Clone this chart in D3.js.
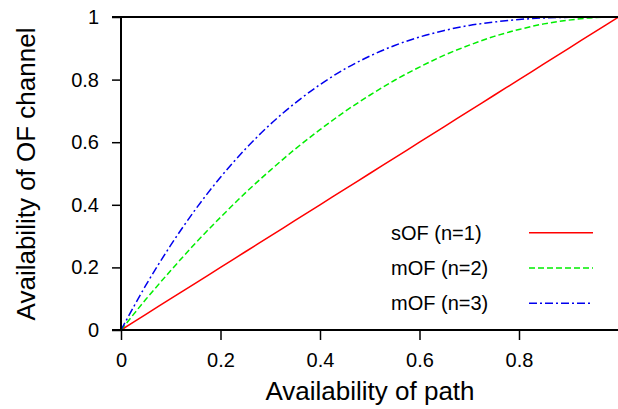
<!DOCTYPE html>
<html>
<head>
<meta charset="utf-8">
<script src="https://cdn.jsdelivr.net/npm/d3@7"></script>
<style>
  body { margin: 0; background: #fff; }
  svg { display: block; font-family: "Liberation Sans", Arial, sans-serif; }
</style>
</head>
<body>
<div id="chart"></div>
<script>
// availability of path (x)
var pathAvail = [0, 0.05, 0.1, 0.15, 0.2, 0.25, 0.3, 0.35, 0.4, 0.45, 0.5,
                 0.55, 0.6, 0.65, 0.7, 0.75, 0.8, 0.85, 0.9, 0.95, 1];
// availability of OF channel
var sOF1 = [0, 0.05, 0.1, 0.15, 0.2, 0.25, 0.3, 0.35, 0.4, 0.45, 0.5,
            0.55, 0.6, 0.65, 0.7, 0.75, 0.8, 0.85, 0.9, 0.95, 1];
var mOF2 = [0, 0.098, 0.19, 0.278, 0.36, 0.438, 0.51, 0.578, 0.64, 0.698, 0.75,
            0.798, 0.84, 0.878, 0.91, 0.938, 0.96, 0.978, 0.99, 0.998, 1];
var mOF3 = [0, 0.143, 0.271, 0.386, 0.488, 0.578, 0.657, 0.725, 0.784, 0.834, 0.875,
            0.909, 0.936, 0.957, 0.973, 0.984, 0.992, 0.997, 0.999, 1, 1];
var seriesNames = ["sOF (n=1)", "mOF (n=2)", "mOF (n=3)"];
var xTicks = [0, 0.2, 0.4, 0.6, 0.8];
var yTicks = [0, 0.2, 0.4, 0.6, 0.8, 1];

var W = 618, H = 409;
var margin = {top: 17, right: 0, bottom: 79, left: 121};
var width = W - margin.left - margin.right + 0.5,
    height = H - margin.top - margin.bottom;

var x = d3.scaleLinear().domain([0, 1]).range([0, 497.5]);
var y = d3.scaleLinear().domain([0, 1]).range([height, 0]);

var svg = d3.select("#chart").append("svg")
    .attr("width", W)
    .attr("height", H)
  .append("g")
    .attr("transform", "translate(" + margin.left + "," + margin.top + ")");

var styles = [
  {color: "#ff0000", dash: null},
  {color: "#00ee00", dash: "6,3"},
  {color: "#0000ee", dash: "8,3,2,3"}
];
var series = [sOF1, mOF2, mOF3];

var line = d3.line()
    .x(function(d) { return x(d[0]); })
    .y(function(d) { return y(d[1]); })
    .curve(d3.curveMonotoneX);

series.forEach(function(s, i) {
  svg.append("path")
      .datum(pathAvail.map(function(v, j) { return [v, s[j]]; }))
      .attr("fill", "none")
      .attr("stroke", styles[i].color)
      .attr("stroke-width", 1.5)
      .attr("stroke-dasharray", styles[i].dash)
      .attr("d", line);
});

// axes
var xAxis = svg.append("g")
    .attr("transform", "translate(0," + height + ")")
    .call(d3.axisBottom(x).tickValues(xTicks).tickSize(10).tickPadding(13)
      .tickFormat(d3.format("")));
var yAxis = svg.append("g")
    .call(d3.axisLeft(y).tickValues(yTicks).tickSize(9).tickPadding(13)
      .tickFormat(d3.format("")));

[xAxis, yAxis].forEach(function(a) {
  a.select(".domain").remove();
  a.selectAll("line").attr("stroke", "#000").attr("stroke-width", 1.5);
  a.selectAll("text").attr("font-size", 20).attr("fill", "#000")
    .attr("font-family", "Liberation Sans, Arial, sans-serif");
});

// frame: left, bottom, top
svg.append("line").attr("x1", -9).attr("x2", width).attr("y1", height).attr("y2", height)
    .attr("stroke", "#000").attr("stroke-width", 2);
svg.append("line").attr("x1", -9).attr("x2", width).attr("y1", 0).attr("y2", 0)
    .attr("stroke", "#000").attr("stroke-width", 2);
svg.append("line").attr("x1", 0).attr("x2", 0).attr("y1", 0).attr("y2", height)
    .attr("stroke", "#000").attr("stroke-width", 2);

// axis titles
svg.append("text")
    .attr("x", 249)
    .attr("y", height + 70)
    .attr("text-anchor", "middle")
    .attr("font-size", 26)
    .text("Availability of path");

svg.append("text")
    .attr("transform", "rotate(-90)")
    .attr("x", -157)
    .attr("y", -86)
    .attr("text-anchor", "middle")
    .attr("font-size", 26)
    .text("Availability of OF channel");

// legend
var legend = svg.selectAll(".legend")
    .data(seriesNames)
  .enter().append("g")
    .attr("transform", function(d, i) { return "translate(0," + (215.7 + i * 35.3) + ")"; });

legend.append("text")
    .attr("x", 270)
    .attr("y", 7)
    .attr("font-size", 20)
    .text(function(d) { return d; });

legend.append("line")
    .attr("x1", 408).attr("x2", 472)
    .attr("y1", 0).attr("y2", 0)
    .attr("stroke", function(d, i) { return styles[i].color; })
    .attr("stroke-width", 1.5)
    .attr("stroke-dasharray", function(d, i) { return styles[i].dash; });
</script>
</body>
</html>
